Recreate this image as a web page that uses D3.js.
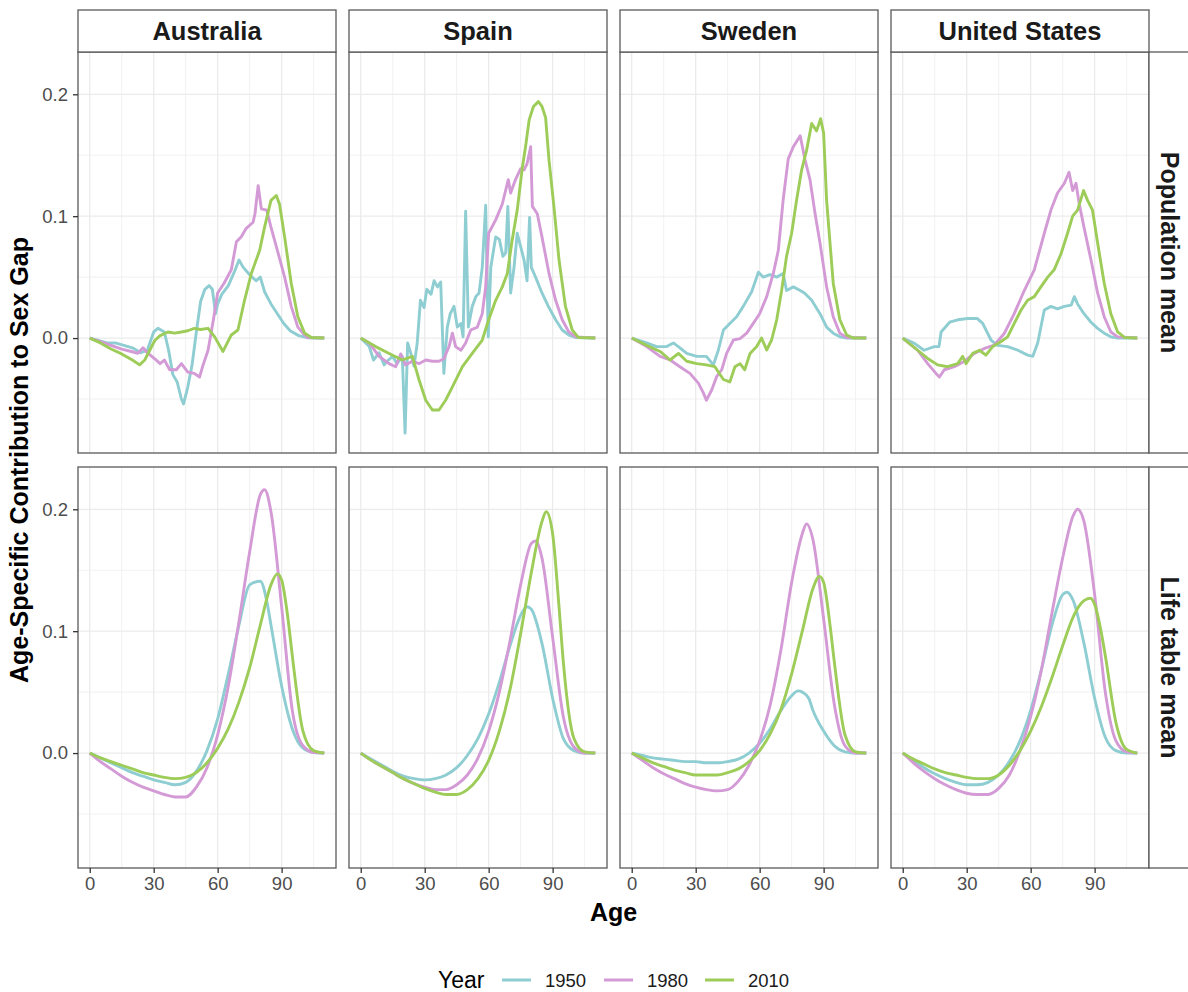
<!DOCTYPE html>
<html lang="en">
<head>
<meta charset="UTF-8">
<title>sex gap</title>
<script src="https://cdnjs.cloudflare.com/ajax/libs/d3/7.8.5/d3.min.js"></script>
<style>
  * { padding: 0; margin: 0; }
  body { background: #fff; }
  svg { display: block; font-family: "Liberation Sans", Arial, sans-serif; }
</style>
</head>
<body>
<script>
// facets, legend, ticks
const countries = ["Australia", "Spain", "Sweden", "United States"];
const measures = ["Population mean", "Life table mean"];
const years = ["1950", "1980", "2010"];
const yearColors = ["#8ecdd1", "#d39ad6", "#9dcc58"];
const xTicks = [0, 30, 60, 90];
const xMinor = [15, 45, 75, 105];
const yTicks = [0, 0.1, 0.2];
const yMinor = [-0.05, 0.05, 0.15];

// [age, contribution]
// --- Population mean ---
const ausPop1950 = [[0,0],[4,-0.002],[8,-0.004],[12,-0.004],[16,-0.006],[20,-0.008],[24,-0.012],[27,-0.010],[30,0.005],[32,0.008],[35,0.005],[37,-0.010],[39,-0.030],[41,-0.036],[43,-0.050],[44,-0.054],[46,-0.040],[48,-0.022],[50,0.005],[52,0.030],[54,0.040],[56,0.043],[57.5,0.040],[59,0.020],[60,0.028],[62,0.036],[65,0.043],[68,0.055],[70,0.064],[72,0.058],[75,0.052],[78,0.047],[80,0.050],[82,0.038],[85,0.028],[88,0.020],[91,0.012],[94,0.006],[98,0.002],[102,0.0003],[106,0],[110,0]];
const ausPop1980 = [[0,0],[5,-0.003],[10,-0.006],[15,-0.009],[19.5,-0.011],[22.6,-0.0125],[25,-0.008],[27,-0.012],[30.5,-0.017],[33,-0.021],[35,-0.018],[37.5,-0.026],[40.6,-0.026],[43,-0.021],[46,-0.028],[49,-0.029],[51.5,-0.032],[53,-0.023],[55.5,-0.010],[58,0.015],[60,0.037],[63,0.045],[66.4,0.056],[68.8,0.079],[71,0.083],[73.4,0.090],[76.6,0.095],[77.5,0.102],[79,0.125],[80.5,0.106],[83,0.105],[85,0.091],[88,0.072],[91.4,0.050],[94.5,0.026],[97.6,0.009],[100.8,0.0025],[102,0.0005],[110,0]];
const ausPop2010 = [[0,0],[5,-0.004],[10,-0.009],[15,-0.013],[20,-0.018],[23.4,-0.022],[25.8,-0.018],[30.5,-0.002],[33,0.002],[36.7,0.005],[39.8,0.004],[43,0.005],[46,0.006],[49,0.008],[52,0.007],[55.5,0.008],[58.6,0.001],[62.5,-0.011],[64.5,-0.004],[66.4,0.0025],[69.5,0.0066],[72.6,0.031],[75.8,0.053],[79.7,0.072],[82,0.091],[85,0.113],[87.5,0.117],[89,0.110],[91.4,0.083],[94.5,0.045],[97.6,0.0175],[100.8,0.004],[104,0.0005],[110,0]];

const espPop1950 = [[0,0],[4,-0.007],[6,-0.018],[8.6,-0.012],[11,-0.022],[13,-0.018],[15,-0.015],[17,-0.021],[19.5,-0.015],[20.8,-0.078],[22,-0.004],[23.4,-0.012],[25,-0.023],[26.5,-0.004],[28,0.031],[29.7,0.025],[31,0.040],[33,0.036],[34.4,0.047],[36,0.042],[37.5,0.046],[39,-0.029],[40.6,0.009],[42,0.020],[43.75,0.026],[45.3,0.009],[47,0.012],[48,0.001],[49.2,0.104],[50.5,0.009],[52.3,0.026],[54,0.034],[55.5,0.037],[57,0.058],[58.6,0.109],[59.8,0.001],[61,0.058],[63.3,0.083],[65,0.081],[66.7,0.067],[68,0.070],[69,0.108],[70.3,0.037],[71.9,0.058],[73.4,0.086],[75,0.075],[76.6,0.064],[78,0.047],[79.2,0.099],[80,0.058],[82,0.050],[85,0.037],[88,0.026],[91.4,0.015],[94.5,0.0066],[97.6,0.0025],[100.8,0.0005],[110,0]];
const espPop1980 = [[0,0],[4,-0.004],[8.6,-0.015],[13.3,-0.021],[16.4,-0.0235],[18.75,-0.013],[21,-0.022],[24.2,-0.019],[27.3,-0.021],[30.5,-0.018],[33.6,-0.019],[36.7,-0.019],[39,-0.017],[41.4,-0.007],[43,0.004],[44.5,-0.007],[47,-0.010],[49.2,-0.004],[51.6,0.0066],[54.7,0.009],[57,0.020],[58.6,0.042],[60,0.086],[63.3,0.097],[66.4,0.110],[69.2,0.130],[70.3,0.119],[72.6,0.130],[75,0.139],[76.6,0.138],[78,0.143],[79.7,0.157],[80.5,0.108],[82.8,0.102],[85,0.083],[88.3,0.053],[91.4,0.031],[94.5,0.015],[97.6,0.005],[100.8,0.001],[110,0]];
const espPop2010 = [[0,0],[7,-0.007],[13.3,-0.0126],[19.5,-0.018],[24.2,-0.015],[27.3,-0.034],[30.5,-0.051],[33.6,-0.059],[36.7,-0.059],[39.8,-0.051],[43,-0.040],[47.7,-0.0235],[52.3,-0.0126],[57,-0.0016],[60,0.015],[63.3,0.031],[66.4,0.042],[68.75,0.053],[71,0.080],[73.4,0.105],[75.8,0.140],[77.3,0.157],[79,0.179],[81,0.190],[83.3,0.194],[85,0.190],[86.7,0.181],[88.3,0.146],[90.6,0.108],[93,0.064],[96,0.026],[99.2,0.0066],[102,0.0005],[110,0]];

const swePop1950 = [[0,0],[7,-0.004],[11.7,-0.007],[16.4,-0.007],[19.5,-0.004],[22.6,-0.008],[25.8,-0.0126],[30.5,-0.015],[35,-0.015],[38.3,-0.022],[40.6,-0.010],[43,0.0066],[46,0.012],[49.2,0.0175],[52.3,0.026],[56.25,0.038],[59.4,0.054],[61.7,0.050],[64.8,0.052],[68,0.050],[71,0.053],[72.6,0.039],[75.8,0.042],[79,0.039],[81,0.037],[84.4,0.031],[88.3,0.020],[91.4,0.009],[94.5,0.004],[97.6,0.001],[100.8,0],[110,0]];
const swePop1980 = [[0,0],[7,-0.007],[13.3,-0.015],[18,-0.018],[22.6,-0.0235],[27.3,-0.029],[31.25,-0.037],[33.6,-0.045],[35,-0.051],[37.5,-0.0426],[39.8,-0.0317],[42.2,-0.026],[44.5,-0.0126],[47.7,-0.0016],[50.8,-0.0005],[53.9,0.004],[57,0.012],[60,0.020],[63.3,0.034],[66.4,0.053],[68.75,0.072],[71,0.113],[73.4,0.147],[75.8,0.157],[79,0.166],[81.3,0.146],[83.6,0.130],[86,0.102],[88.3,0.078],[91.4,0.042],[94.5,0.0175],[97.6,0.004],[100.8,0.0005],[110,0]];
const swePop2010 = [[0,0],[7,-0.006],[13.3,-0.011],[18,-0.018],[21.9,-0.0126],[25.8,-0.019],[30.5,-0.021],[35,-0.022],[39,-0.0235],[43,-0.034],[46,-0.036],[48.4,-0.0235],[50.8,-0.021],[53,-0.026],[55.5,-0.0126],[58.6,-0.007],[60.9,0],[63.3,-0.0098],[65.6,-0.0016],[68,0.015],[70.3,0.039],[72.6,0.067],[75,0.086],[77.3,0.113],[79.7,0.138],[82,0.154],[84.4,0.176],[86.7,0.170],[88.6,0.180],[90,0.168],[91.4,0.113],[94.5,0.045],[97.6,0.015],[100.8,0.0025],[104,0],[110,0]];

const usaPop1950 = [[0,0],[5.5,-0.0044],[10,-0.010],[14.8,-0.007],[17,-0.007],[18,0.005],[22,0.013],[25.8,0.015],[30.5,0.016],[35,0.016],[37.5,0.012],[41.4,-0.0016],[44.5,-0.006],[49.2,-0.007],[54,-0.010],[58.6,-0.014],[61,-0.015],[63.3,-0.004],[66.4,0.023],[69.5,0.026],[72.6,0.024],[75.8,0.026],[79,0.027],[80.5,0.034],[82,0.028],[85,0.020],[88.3,0.013],[91.4,0.008],[94.5,0.004],[97.6,0.001],[100.8,0],[110,0]];
const usaPop1980 = [[0,0],[7,-0.010],[11.7,-0.021],[15.6,-0.029],[17.2,-0.032],[19.5,-0.026],[24.2,-0.0235],[29,-0.019],[33.6,-0.0126],[38.3,-0.0085],[43,-0.0057],[47.7,0.004],[52.3,0.020],[57,0.039],[61.7,0.056],[66.4,0.086],[69.5,0.105],[72.6,0.119],[75.8,0.127],[78,0.136],[79.7,0.121],[81.25,0.127],[82.8,0.110],[85,0.091],[88.3,0.064],[91.4,0.037],[94.5,0.0175],[97.6,0.005],[100.8,0.001],[110,0]];
const usaPop2010 = [[0,0],[7,-0.010],[11.7,-0.0167],[16.4,-0.022],[21,-0.0235],[25.8,-0.021],[28.1,-0.015],[29.7,-0.021],[32.8,-0.0126],[36,-0.010],[39,-0.014],[42.2,-0.007],[46,-0.003],[49.2,0.001],[52.3,0.012],[55.5,0.023],[58.6,0.031],[61.7,0.034],[64.8,0.042],[68,0.050],[71,0.056],[74.2,0.069],[77.3,0.086],[79.7,0.100],[82,0.105],[84.8,0.121],[86.7,0.113],[89,0.105],[91.4,0.078],[94.5,0.045],[97.6,0.020],[100.8,0.005],[104,0.0005],[110,0]];

// --- Life table mean ---
const ausLt1950 = [[0,0],[5,-0.004],[10,-0.008],[15,-0.012],[20,-0.016],[25,-0.019],[30,-0.022],[35,-0.024],[40,-0.026],[45,-0.024],[50,-0.015],[55,0.002],[60,0.028],[65,0.065],[70,0.105],[75,0.138],[80,0.141],[83,0.125],[85,0.105],[90,0.055],[95,0.020],[100,0.004],[105,0.0005],[110,0]];
const ausLt1980 = [[0,0],[5,-0.007],[10,-0.013],[15,-0.019],[20,-0.024],[25,-0.028],[30,-0.031],[35,-0.034],[40,-0.036],[45,-0.036],[50,-0.028],[55,-0.012],[60,0.015],[65,0.055],[70,0.108],[75,0.165],[80,0.212],[82,0.216],[85,0.198],[90,0.120],[95,0.035],[100,0.006],[105,0.0005],[110,0]];
const ausLt2010 = [[0,0],[5,-0.004],[10,-0.007],[15,-0.010],[20,-0.013],[25,-0.016],[30,-0.018],[35,-0.020],[40,-0.021],[45,-0.020],[50,-0.016],[55,-0.008],[60,0.004],[65,0.020],[70,0.042],[75,0.070],[80,0.105],[85,0.138],[88,0.147],[90,0.142],[93,0.110],[95,0.080],[100,0.018],[105,0.002],[110,0]];

const espLt1950 = [[0,0],[5,-0.005],[10,-0.010],[15,-0.015],[20,-0.019],[25,-0.021],[30,-0.022],[35,-0.021],[40,-0.018],[45,-0.012],[50,-0.002],[55,0.012],[60,0.032],[65,0.058],[70,0.088],[75,0.113],[78,0.120],[80,0.118],[85,0.090],[90,0.045],[95,0.012],[100,0.002],[105,0],[110,0]];
const espLt1980 = [[0,0],[5,-0.006],[10,-0.011],[15,-0.016],[20,-0.021],[25,-0.025],[30,-0.028],[35,-0.030],[40,-0.030],[45,-0.026],[50,-0.018],[55,-0.004],[60,0.018],[65,0.050],[70,0.092],[75,0.138],[80,0.172],[82,0.174],[85,0.160],[90,0.095],[95,0.030],[100,0.005],[105,0],[110,0]];
const espLt2010 = [[0,0],[5,-0.006],[10,-0.011],[15,-0.016],[20,-0.021],[25,-0.025],[30,-0.029],[35,-0.032],[40,-0.034],[45,-0.034],[50,-0.030],[55,-0.021],[60,-0.006],[65,0.018],[70,0.052],[75,0.098],[80,0.148],[85,0.190],[87,0.198],[90,0.180],[93,0.120],[95,0.075],[100,0.012],[105,0.001],[110,0]];

const sweLt1950 = [[0,0],[5,-0.002],[10,-0.004],[15,-0.005],[20,-0.006],[25,-0.007],[30,-0.007],[35,-0.008],[40,-0.008],[45,-0.007],[50,-0.005],[55,0],[60,0.008],[65,0.020],[70,0.035],[75,0.047],[78,0.051],[80,0.050],[83,0.045],[85,0.035],[90,0.018],[95,0.006],[100,0.001],[105,0],[110,0]];
const sweLt1980 = [[0,0],[5,-0.006],[10,-0.012],[15,-0.017],[20,-0.021],[25,-0.025],[30,-0.028],[35,-0.030],[40,-0.031],[45,-0.030],[50,-0.023],[55,-0.010],[60,0.010],[65,0.040],[70,0.085],[75,0.140],[80,0.180],[82,0.188],[85,0.175],[90,0.110],[95,0.040],[100,0.006],[105,0],[110,0]];
const sweLt2010 = [[0,0],[5,-0.004],[10,-0.008],[15,-0.011],[20,-0.014],[25,-0.016],[30,-0.018],[35,-0.018],[40,-0.018],[45,-0.016],[50,-0.013],[55,-0.007],[60,0.002],[65,0.016],[70,0.036],[75,0.065],[80,0.100],[85,0.135],[88,0.145],[90,0.140],[93,0.105],[95,0.075],[100,0.015],[105,0.001],[110,0]];

const usaLt1950 = [[0,0],[5,-0.006],[10,-0.012],[15,-0.017],[20,-0.021],[25,-0.024],[30,-0.026],[35,-0.026],[40,-0.024],[45,-0.018],[50,-0.007],[55,0.010],[60,0.035],[65,0.068],[70,0.105],[75,0.130],[77,0.132],[80,0.125],[85,0.090],[90,0.045],[95,0.013],[100,0.002],[105,0],[110,0]];
const usaLt1980 = [[0,0],[5,-0.008],[10,-0.015],[15,-0.021],[20,-0.026],[25,-0.030],[30,-0.033],[35,-0.034],[40,-0.034],[45,-0.029],[50,-0.018],[55,0.002],[60,0.030],[65,0.068],[70,0.115],[75,0.160],[80,0.195],[82,0.200],[85,0.190],[90,0.130],[95,0.050],[100,0.010],[105,0.001],[110,0]];
const usaLt2010 = [[0,0],[5,-0.005],[10,-0.009],[15,-0.013],[20,-0.016],[25,-0.018],[30,-0.020],[35,-0.021],[40,-0.021],[45,-0.018],[50,-0.010],[55,0.002],[60,0.018],[65,0.038],[70,0.062],[75,0.088],[80,0.112],[85,0.125],[88,0.127],[90,0.122],[93,0.100],[95,0.080],[100,0.025],[105,0.003],[110,0]];

const popSeries = [
  [ausPop1950, ausPop1980, ausPop2010],
  [espPop1950, espPop1980, espPop2010],
  [swePop1950, swePop1980, swePop2010],
  [usaPop1950, usaPop1980, usaPop2010]
];
const ltSeries = [
  [ausLt1950, ausLt1980, ausLt2010],
  [espLt1950, espLt1980, espLt2010],
  [sweLt1950, sweLt1980, sweLt2010],
  [usaLt1950, usaLt1980, usaLt2010]
];
const allSeries = [popSeries, ltSeries];

// layout
const W = 1188, H = 992;
const panelW = 258, panelH = 401;
const colLeft = [78, 349, 620, 891];
const rowTop = [52, 467];
const stripTop = 10, stripH = 42;
const border = "#595959";

const svg = d3.select("body").append("svg")
  .attr("width", W).attr("height", H);
svg.append("rect").attr("width", W).attr("height", H).attr("fill", "#fff");

const x = d3.scaleLinear().domain([-5.5, 115.5]).range([0, panelW]);
const y = d3.scaleLinear().domain([-0.0943, 0.2347]).range([panelH, 0]);

measures.forEach(function (m, r) {
  countries.forEach(function (c, ci) {
    const g = svg.append("g")
      .attr("transform", "translate(" + colLeft[ci] + "," + rowTop[r] + ")");

    // grid
    g.selectAll(".vmin").data(xMinor).enter().append("line")
      .attr("x1", d => x(d)).attr("x2", d => x(d))
      .attr("y1", 0).attr("y2", panelH)
      .attr("stroke", "#eeeeee").attr("stroke-width", 0.8);
    g.selectAll(".hmin").data(yMinor).enter().append("line")
      .attr("x1", 0).attr("x2", panelW)
      .attr("y1", d => y(d)).attr("y2", d => y(d))
      .attr("stroke", "#eeeeee").attr("stroke-width", 0.8);
    g.selectAll(".vmaj").data(xTicks).enter().append("line")
      .attr("x1", d => x(d)).attr("x2", d => x(d))
      .attr("y1", 0).attr("y2", panelH)
      .attr("stroke", "#ebebeb").attr("stroke-width", 1.3);
    g.selectAll(".hmaj").data(yTicks).enter().append("line")
      .attr("x1", 0).attr("x2", panelW)
      .attr("y1", d => y(d)).attr("y2", d => y(d))
      .attr("stroke", "#ebebeb").attr("stroke-width", 1.3);

    // lines
    const line = d3.line()
      .x(d => x(d[0])).y(d => y(d[1]))
      .curve(r === 0 ? d3.curveLinear : d3.curveMonotoneX);
    allSeries[r][ci].forEach(function (s, k) {
      g.append("path")
        .attr("d", line(s))
        .attr("fill", "none")
        .attr("stroke", yearColors[k])
        .attr("stroke-width", 2.9)
        .attr("stroke-linejoin", "round");
    });

    // border
    g.append("rect").attr("width", panelW).attr("height", panelH)
      .attr("fill", "none").attr("stroke", border).attr("stroke-width", 1.3);

    // y axis on first column
    if (ci === 0) {
      const ay = g.append("g").call(d3.axisLeft(y).tickValues(yTicks)
        .tickFormat(d3.format(".1f")).tickSize(5).tickPadding(5));
      ay.select(".domain").remove();
      ay.selectAll("line").attr("stroke", "#333").attr("stroke-width", 1.3);
      ay.selectAll("text").attr("font-size", 18.5).attr("fill", "#4d4d4d")
        .attr("font-family", "Liberation Sans, Arial, sans-serif");
    }
    // x axis on bottom row
    if (r === 1) {
      const ax = g.append("g").attr("transform", "translate(0," + panelH + ")")
        .call(d3.axisBottom(x).tickValues(xTicks).tickSize(5).tickPadding(4));
      ax.select(".domain").remove();
      ax.selectAll("line").attr("stroke", "#333").attr("stroke-width", 1.3);
      ax.selectAll("text").attr("font-size", 18.5).attr("fill", "#4d4d4d")
        .attr("font-family", "Liberation Sans, Arial, sans-serif");
    }
  });

  // right strip
  const sy = rowTop[r];
  svg.append("rect").attr("x", 1149).attr("y", sy)
    .attr("width", stripH).attr("height", panelH)
    .attr("fill", "#fff").attr("stroke", border).attr("stroke-width", 1.3);
  svg.append("text")
    .attr("transform", "translate(1170," + (sy + panelH / 2) + ") rotate(90)")
    .attr("text-anchor", "middle").attr("dy", "0.36em")
    .attr("font-size", 25).attr("font-weight", "bold").attr("fill", "#1a1a1a")
    .text(m);
});

// top strips
countries.forEach(function (c, ci) {
  svg.append("rect").attr("x", colLeft[ci]).attr("y", stripTop)
    .attr("width", panelW).attr("height", stripH)
    .attr("fill", "#fff").attr("stroke", border).attr("stroke-width", 1.3);
  svg.append("text")
    .attr("x", colLeft[ci] + panelW / 2).attr("y", stripTop + stripH / 2)
    .attr("dy", "0.36em").attr("text-anchor", "middle")
    .attr("font-size", 25.5).attr("font-weight", "bold").attr("fill", "#1a1a1a")
    .text(c);
});

// axis titles
svg.append("text").attr("x", (colLeft[0] + colLeft[3] + panelW) / 2).attr("y", 921)
  .attr("text-anchor", "middle").attr("font-size", 25).attr("font-weight", "bold")
  .text("Age");
svg.append("text")
  .attr("transform", "translate(28," + (rowTop[0] + rowTop[1] + panelH) / 2 + ") rotate(-90)")
  .attr("text-anchor", "middle").attr("font-size", 25).attr("font-weight", "bold")
  .text("Age-Specific Contribution to Sex Gap");

// legend
const lg = svg.append("g").attr("transform", "translate(0,980)");
lg.append("text").attr("x", 438).attr("y", 8).attr("font-size", 23).text("Year");
const keyX = [502, 604, 705];
years.forEach(function (yr, k) {
  lg.append("line").attr("x1", keyX[k]).attr("x2", keyX[k] + 29)
    .attr("y1", 0).attr("y2", 0)
    .attr("stroke", yearColors[k]).attr("stroke-width", 3);
  lg.append("text").attr("x", keyX[k] + 43).attr("y", 7)
    .attr("font-size", 18.5).attr("fill", "#1a1a1a").text(yr);
});
</script>
</body>
</html>
